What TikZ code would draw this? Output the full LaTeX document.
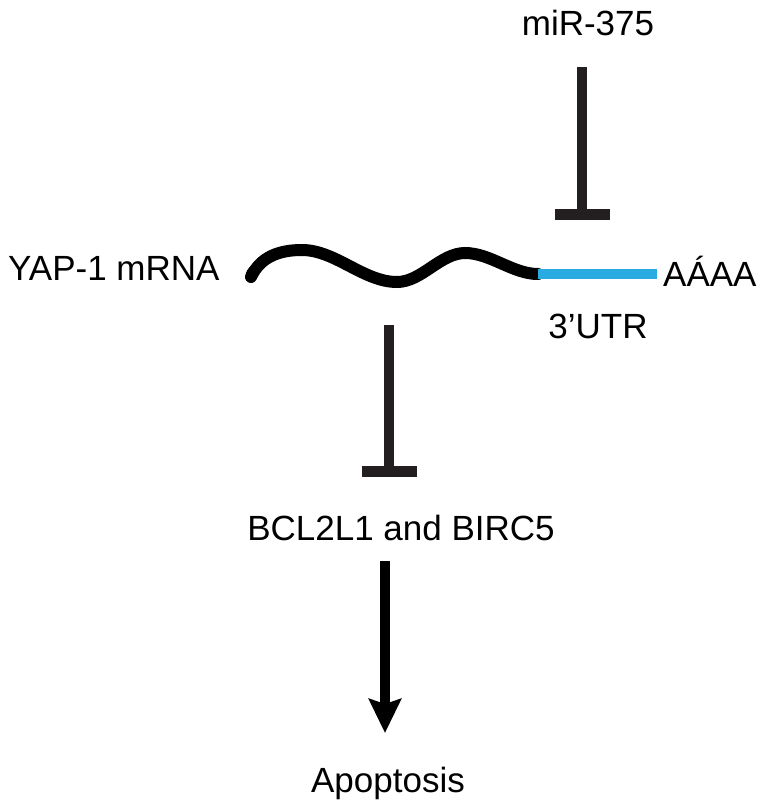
\documentclass[tikz,border=0pt]{standalone}
\usepackage{fontspec}
\setmainfont{Liberation Sans}
\usetikzlibrary{arrows.meta}
\definecolor{utrblue}{RGB}{41,171,226}
\definecolor{inhib}{RGB}{35,31,32}
\begin{document}
\begin{tikzpicture}[x=1pt,y=-1pt,
  lbl/.style={inner sep=0pt, font=\fontsize{35}{42}\selectfont},
  inhibline/.style={draw=inhib, line width=10pt, -{Bar[width=55pt, line width=11pt]}},
  actarrow/.style={draw=black, line width=10pt, -{Stealth[length=34pt, width=32pt, inset=5pt]}},
  mrna/.style={draw=black, line width=12pt, line cap=round},
  utr/.style={draw=utrblue, line width=10pt}
]
\useasboundingbox (0,0) rectangle (767,809);
% labels
\node[lbl, anchor=base] (mir) at (588,35) {miR-375};
\node[lbl, anchor=base west] (yap) at (8,280) {YAP-1 mRNA};
\node[lbl, anchor=base west] (aaaa) at (663,286) {AÁAA};
\node[lbl, anchor=base] (utrlbl) at (598,338) {3’UTR};
\node[lbl, anchor=base] (bcl) at (401,540) {BCL2L1 and BIRC5};
\node[lbl, anchor=base] (apo) at (388,792) {Apoptosis};
% mRNA
\coordinate (w0) at (251,277);
\coordinate (w1) at (302,250);
\coordinate (w2) at (397,282);
\coordinate (w3) at (465,253);
\coordinate (w4) at (538,274);
\coordinate (u1) at (657,274);
\draw[mrna] (w0) to[out=65,in=180] (w1) to[out=0,in=180,looseness=0.85] (w2) to[out=0,in=180,looseness=0.85] (w3) to[out=0,in=180,looseness=0.85] (w4);
\fill[black, rotate around={60:(252,273)}] (252,273) ellipse (8.5pt and 5.5pt);
\draw[utr] (w4) -- (u1);
% miR-375 inhibition
\coordinate (mirtop) at (582,67);
\coordinate (mirbar) at (582,220);
\draw[inhibline] (mirtop) -- (mirbar);
% YAP-1 inhibition of BCL2L1/BIRC5
\coordinate (yaptop) at (389,325);
\coordinate (yapbar) at (389,477);
\draw[inhibline] (yaptop) -- (yapbar);
% activation arrow
\coordinate (arrtop) at (385,561);
\coordinate (arrtip) at (385,733);
\draw[actarrow] (arrtop) -- (arrtip);
\end{tikzpicture}
\end{document}
